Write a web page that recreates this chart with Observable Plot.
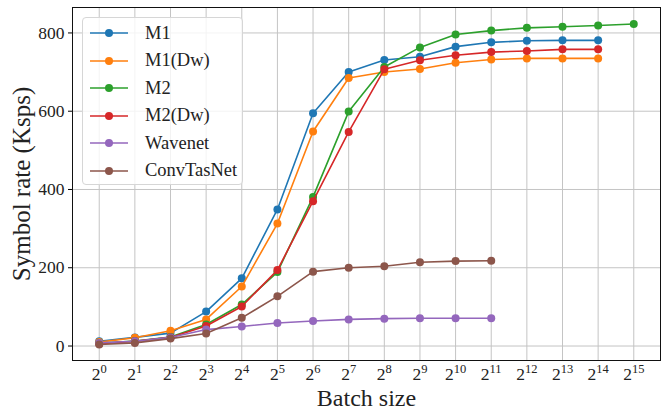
<!DOCTYPE html>
<html><head><meta charset="utf-8">
<script src="https://cdn.jsdelivr.net/npm/d3@7"></script>
<script src="https://cdn.jsdelivr.net/npm/@observablehq/plot@0.6"></script>
<style>
body{margin:0;background:#fff;}
#wrap{position:relative;width:661px;height:409px;font-family:"Liberation Serif",serif;}
#wrap svg{font-family:"Liberation Serif",serif;}
#wrap svg [aria-label="x-axis tick label"] text,#wrap svg [aria-label="y-axis tick label"] text{font-size:17.5px;fill:#222;}
#wrap svg [aria-label="x-axis label"] text{font-size:24px;fill:#222;}
#wrap svg [aria-label="y-axis label"] text{font-size:25px;fill:#222;}
#legend{position:absolute;left:82px;top:17px;width:161px;height:168px;box-sizing:border-box;border:1px solid #d6d6d6;border-radius:4px;background:rgba(255,255,255,0.8);}
.ent{position:absolute;left:6px;height:20px;display:flex;align-items:center;font-size:18.5px;color:#222;}
.ent svg{margin-right:16px;}
</style></head><body><div id="wrap"></div>
<script>
const exps = [0,1,2,3,4,5,6,7,8,9,10,11,12,13,14,15];
const tickBase = "2";
const seriesNames = ["M1","M1(Dw)","M2","M2(Dw)","Wavenet","ConvTasNet"];
const seriesColors = ["#1f77b4","#ff7f0e","#2ca02c","#d62728","#9467bd","#8c564b"];
const m1 = [12,22,33,88,173,349,595,700,731,739,765,776,780,781,781];
const m1dw = [10,21,39,68,152,313,548,685,700,708,724,732,735,735,735];
const m2 = [7,13,23,55,106,189,381,599,713,763,796,806,813,816,819,823];
const m2dw = [6,12,22,51,101,194,370,547,707,730,743,751,754,758,758];
const wavenet = [8,12,22,42,50,59,64,68,70,71,71,71];
const convtasnet = [4,8,19,32,72,127,190,200,204,214,217,218];
const yTicks = [0,200,400,600,800];

const allSeries = [m1,m1dw,m2,m2dw,wavenet,convtasnet];
const rows = [];
allSeries.forEach((vals,si)=>vals.forEach((v,i)=>rows.push({series:seriesNames[si],e:exps[i],v})));

const marks = [
  Plot.gridX(exps,{stroke:"#c4c4c4",strokeOpacity:1,strokeWidth:1}),
  Plot.gridY(yTicks,{stroke:"#c4c4c4",strokeOpacity:1,strokeWidth:1}),
  Plot.axisX(exps,{tickFormat:d=>tickBase+"^"+d,tickSize:0,tickPadding:7,label:"Batch size",labelAnchor:"center",labelArrow:"none",labelOffset:45}),
  Plot.axisY(yTicks,{tickSize:4,tickPadding:4,label:"Symbol rate (Ksps)",labelAnchor:"center",labelArrow:"none",labelOffset:60}),
];
seriesNames.forEach((name,si)=>{
  const d = rows.filter(r=>r.series===name);
  marks.push(Plot.line(d,{x:"e",y:"v",stroke:seriesColors[si],strokeWidth:1.6}));
  marks.push(Plot.dot(d,{x:"e",y:"v",fill:seriesColors[si],r:4}));
});
marks.push(Plot.frame({stroke:"#111",strokeWidth:1}));

const chart = Plot.plot({
  width:661,height:409,
  marginLeft:72,marginRight:1,marginTop:7,marginBottom:49,
  x:{type:"linear",domain:[-0.75,15.75]},
  y:{domain:[-37,865]},
  marks
});
// render exponents as real superscript tspans
chart.querySelectorAll('[aria-label="x-axis tick label"] text').forEach(t=>{
  const parts = t.textContent.split("^");
  if (parts.length !== 2) return;
  while (t.firstChild) t.removeChild(t.firstChild);
  const ns = "http://www.w3.org/2000/svg";
  const b = document.createElementNS(ns,"tspan"); b.textContent = parts[0];
  const s = document.createElementNS(ns,"tspan"); s.textContent = parts[1];
  s.setAttribute("dy","-7"); s.setAttribute("font-size","12.5");
  t.appendChild(b); t.appendChild(s);
});
const wrap = document.getElementById("wrap");
wrap.appendChild(chart);

const leg = document.createElement("div");
leg.id="legend";
seriesNames.forEach((name,i)=>{
  const e=document.createElement("div");
  e.className="ent";
  e.style.top=(5+i*27.5)+"px";
  e.innerHTML=`<svg width="40" height="12"><line x1="1" y1="6" x2="39" y2="6" stroke="${seriesColors[i]}" stroke-width="1.6"/><circle cx="20" cy="6" r="4" fill="${seriesColors[i]}"/></svg><span>${name}</span>`;
  leg.appendChild(e);
});
wrap.appendChild(leg);
</script></body></html>
